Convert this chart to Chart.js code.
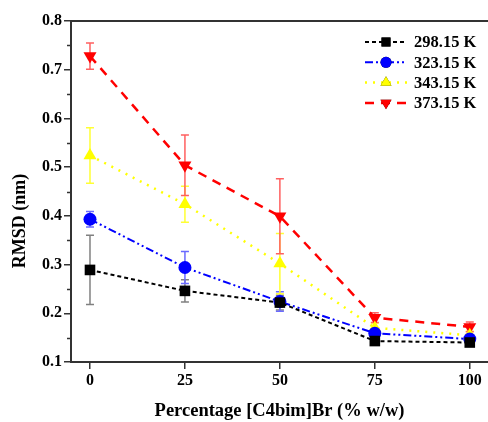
<!DOCTYPE html>
<html><head><meta charset="utf-8">
<script src="https://cdn.jsdelivr.net/npm/chart.js@4/dist/chart.umd.min.js"></script>
<style>html,body{margin:0;padding:0;background:#fff}#wrap{width:488px;height:422px}</style>
</head><body><div id="wrap"><canvas id="c"></canvas></div>
<script>
const categories = [0, 25, 50, 75, 100];
const seriesNames = ['298.15 K', '323.15 K', '343.15 K', '373.15 K'];
const rmsd298 = [0.289, 0.246, 0.222, 0.143, 0.140];
const rmsd323 = [0.393, 0.294, 0.224, 0.159, 0.147];
const rmsd343 = [0.524, 0.424, 0.302, 0.170, 0.155];
const rmsd373 = [0.728, 0.504, 0.399, 0.191, 0.172];
const err298 = [0.071, 0.023, 0.015, 0.005, 0.005];
const err323 = [0.016, 0.033, 0.020, 0.008, 0.006];
const err343 = [0.057, 0.037, 0.062, 0.010, 0.008];
const err373 = [0.027, 0.062, 0.077, 0.010, 0.010];
const yTickLabels = ['0.1','0.2','0.3','0.4','0.5','0.6','0.7','0.8'];
const xTickLabels = ['0','25','50','75','100'];
const xTitle = 'Percentage [C4bim]Br (% w/w)';
const yTitle = 'RMSD (nm)';

const FONT = 'Liberation Serif';
const styles = [
  {color:'#000000', err:'#808080', dash:[4,3], pt:'rect', r:7.5, rot:0, w:2},
  {color:'#0000ff', err:'#6a6aff', dash:[8,3,2,3,2,3], pt:'circle', r:6.5, rot:0, w:2},
  {color:'#ffff00', err:'#ffff33', dash:[2,6], pt:'triangle', r:7.5, rot:0, w:2.5},
  {color:'#ff0000', err:'#ff6060', dash:[9,7], pt:'triangle', r:7.5, rot:180, w:2.5}
];
const values = [rmsd298, rmsd323, rmsd343, rmsd373];
const errors = [err298, err323, err343, err373];

const datasets = values.map((v,i)=>({
  label: seriesNames[i],
  data: categories.map((x,j)=>({x:x, y:v[j]})),
  borderColor: styles[i].color,
  backgroundColor: styles[i].color,
  borderDash: styles[i].dash,
  borderWidth: styles[i].w,
  pointStyle: styles[i].pt,
  pointRadius: styles[i].r,
  pointRotation: styles[i].rot,
  pointBorderWidth: 0,
  pointBackgroundColor: styles[i].color,
  fill: false,
  tension: 0,
  errors: errors[i],
  errColor: styles[i].err
}));

const errorBars = {
  id: 'errorBars',
  beforeDatasetsDraw(chart) {
    const ctx = chart.ctx, xs = chart.scales.x, ys = chart.scales.y;
    chart.data.datasets.forEach(ds => {
      ctx.save();
      ctx.strokeStyle = ds.errColor; ctx.lineWidth = 1.5; ctx.setLineDash([]);
      ds.data.forEach((p,j) => {
        const e = ds.errors[j];
        const px = xs.getPixelForValue(p.x);
        const top = ys.getPixelForValue(p.y + e), bot = ys.getPixelForValue(p.y - e);
        ctx.beginPath();
        ctx.moveTo(px, top); ctx.lineTo(px, bot);
        ctx.moveTo(px-4, top); ctx.lineTo(px+4, top);
        ctx.moveTo(px-4, bot); ctx.lineTo(px+4, bot);
        ctx.stroke();
      });
      ctx.restore();
    });
  }
};

const frame = {
  id: 'frame',
  afterDraw(chart) {
    const ctx = chart.ctx, a = chart.chartArea, ys = chart.scales.y;
    ctx.save();
    ctx.strokeStyle = '#333'; ctx.lineWidth = 2; ctx.setLineDash([]);
    ctx.beginPath();
    ctx.moveTo(a.left, a.top); ctx.lineTo(chart.width, a.top);
    ctx.stroke();
    // minor ticks on y
    ctx.lineWidth = 1.5;
    for (let k = 0; k < yTickLabels.length - 1; k++) {
      const v = parseFloat(yTickLabels[k]) + 0.05;
      const py = Math.round(ys.getPixelForValue(v)) + 0.5;
      ctx.beginPath(); ctx.moveTo(a.left - 4, py); ctx.lineTo(a.left, py); ctx.stroke();
    }
    // y title
    ctx.save();
    ctx.translate(20, 221);
    ctx.rotate(-Math.PI/2);
    ctx.fillStyle = '#000';
    ctx.font = 'bold 18px "' + FONT + '"';
    ctx.textAlign = 'center'; ctx.textBaseline = 'middle';
    ctx.fillText(yTitle, 0, 0);
    ctx.restore();
    // legend
    const lx0 = 365, lx1 = 407, tx = 414;
    let ly = 42;
    chart.data.datasets.forEach(ds => {
      ctx.strokeStyle = ds.borderColor; ctx.lineWidth = ds.borderWidth;
      ctx.setLineDash(ds.borderDash);
      ctx.beginPath(); ctx.moveTo(lx0, ly); ctx.lineTo(lx1, ly); ctx.stroke();
      ctx.setLineDash([]);
      Chart.helpers.drawPoint(ctx, {pointStyle: ds.pointStyle, rotation: ds.pointRotation, radius: ds.pointRadius*0.85, borderWidth: 0}, (lx0+lx1)/2, ly);
      ctx.fillStyle = ds.backgroundColor;
      ctx.fill();
      ctx.fillStyle = '#000';
      ctx.font = 'bold 16.5px "' + FONT + '"';
      ctx.textBaseline = 'middle'; ctx.textAlign = 'left';
      ctx.fillText(ds.label, tx, ly + 1);
      ly += 20.3;
    });
    ctx.restore();
  }
};

new Chart(document.getElementById('c'), {
  type: 'line',
  data: { datasets },
  plugins: [errorBars, frame],
  options: {
    responsive: true, maintainAspectRatio: false, animation: false,
    layout: { autoPadding: false, padding: { left: 0, right: 0, top: 21, bottom: 0 } },
    plugins: { legend: { display: false }, tooltip: { enabled: false } },
    scales: {
      x: {
        type: 'linear', min: -5, max: 104.8,
        afterBuildTicks: s => { s.ticks = categories.map(v => ({value: v})); },
        afterFit: s => { s.height = 60; s.paddingRight = 0; s.paddingLeft = 0; },
        border: { color: '#333', width: 2 },
        grid: { drawOnChartArea: false, tickLength: 7, color: '#333', lineWidth: 1.5 },
        ticks: { color: '#000', font: { family: FONT, weight: 'bold', size: 16 }, padding: 2,
                 callback: (v, i) => xTickLabels[i] },
        title: { display: true, text: xTitle, color: '#000',
                 font: { family: FONT, weight: 'bold', size: 18.5 }, padding: { top: 3, bottom: 0 } }
      },
      y: {
        type: 'linear', min: 0.1, max: 0.8,
        afterBuildTicks: s => { s.ticks = yTickLabels.map(t => ({value: parseFloat(t)})); },
        afterFit: s => { s.width = 71; },
        border: { color: '#333', width: 2 },
        grid: { drawOnChartArea: false, tickLength: 7, color: '#333', lineWidth: 1.5 },
        ticks: { color: '#000', font: { family: FONT, weight: 'bold', size: 16 }, padding: 2,
                 callback: (v, i) => yTickLabels[i] },
        title: { display: false }
      }
    }
  }
});
</script></body></html>
